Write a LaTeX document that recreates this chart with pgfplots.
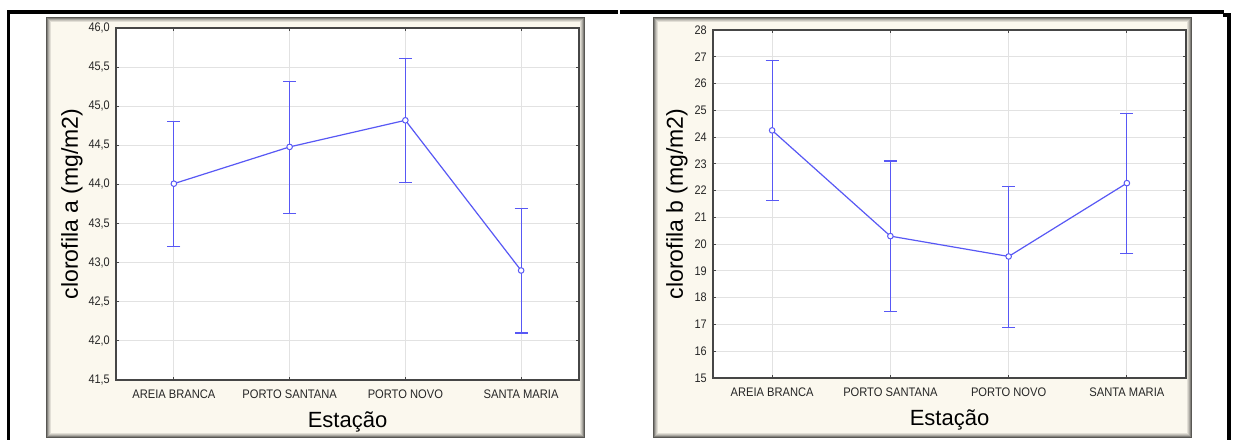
\documentclass[border=0pt]{standalone}
\usepackage{pgfplots}
\pgfplotsset{compat=1.18}
\usepackage{fontspec}
\setmainfont{Liberation Sans}
\usetikzlibrary{calc}
\definecolor{plotblue}{RGB}{88,88,245}
\definecolor{cream}{RGB}{251,248,238}
\definecolor{gridgray}{RGB}{226,226,226}
\definecolor{axisgray}{RGB}{70,70,70}
\newcommand{\panel}[4]{%
  \fill[cream] (#1,#2) rectangle (#3,#4);
  \foreach \k/\c in {0/65,1/48,2/32,3/20,4/10}{%
    \draw[line width=0.5pt, black!\c!cream] ($(#1,#2)+(\k*0.5pt+0.25pt,\k*0.5pt+0.25pt)$) rectangle ($(#3,#4)-(\k*0.5pt+0.25pt,\k*0.5pt+0.25pt)$);
  }}
\pgfplotsset{mystyle/.style={
  scale only axis, anchor=south west,
  xmin=-0.5, xmax=3.5, xtick={0,1,2,3},
  xticklabels={AREIA BRANCA, PORTO SANTANA, PORTO NOVO, SANTA MARIA},
  grid=major, major grid style={gridgray, line width=0.5pt},
  axis line style={axisgray, line width=0.6pt},
  tick style={axisgray, line width=0.5pt}, major tick length=1.5pt,
  tick align=inside, tick pos=both,
  axis background/.style={fill=white},
  ticklabel style={font=\fontsize{6.2}{7}\selectfont, text=black!85},
  xticklabel style={anchor=base, yshift=-9pt, xscale=0.9},
  yticklabel style={/pgf/number format/assume math mode=true, xscale=0.88},
  xlabel={Estação},
  xlabel style={font=\fontsize{11}{13}\selectfont, at={(axis description cs:0.5,0)}, anchor=base, yshift=-23.5pt},
  ylabel style={font=\fontsize{11.5}{13}\selectfont, at={(axis description cs:0,0.5)}, anchor=center},
}}
\pgfplotsset{myplot/.style={draw=plotblue, line width=0.6pt,
     mark=*, mark size=1.4pt, mark options={fill=white, draw=plotblue, solid, line width=0.5pt},
     error bars/y dir=both, error bars/y explicit,
     error bars/error bar style={draw=plotblue, line width=0.6pt},
     error bars/error mark options={rotate=90, mark size=3.2pt, draw=plotblue, line width=0.6pt}}}
\begin{document}
\begin{tikzpicture}
\useasboundingbox (0,0) rectangle (617pt,220pt);
\panel{23pt}{1pt}{292.5pt}{211.5pt}
\panel{326.5pt}{1pt}{596pt}{211.5pt}
\draw[black, line width=1.6pt] (3.5pt,214pt) -- (309pt,214pt);
\draw[black, line width=1.6pt] (310pt,214pt) -- (612pt,214pt);
\draw[black, line width=1.6pt] (4.3pt,214.8pt) -- (4.3pt,0pt);
\draw[black, line width=1.6pt] (611.5pt,212.5pt) -- (615.5pt,212.5pt);
\draw[black, line width=2pt] (614.5pt,213pt) -- (614.5pt,0pt);

\begin{axis}[mystyle, at={(58pt,30pt)}, width=231.5pt, height=176pt,
  ymin=41.5, ymax=46, ytick={41.5,42,...,46},
  yticklabel style={/pgf/number format/.cd, use comma, fixed, fixed zerofill, precision=1},
  ylabel={clorofila a (mg/m2)}, ylabel style={yshift=22pt}]
\addplot[myplot] coordinates {
  (0,44.01) +=(0,0.79) -=(0,0.80)
  (1,44.48) +=(0,0.84) -=(0,0.85)
  (2,44.82) +=(0,0.79) -=(0,0.79)
  (3,42.90) +=(0,0.79) -=(0,0.80)
};
\end{axis}

\begin{axis}[mystyle, at={(356.5pt,31pt)}, width=236.5pt, height=174pt,
  ymin=15, ymax=28, ytick={15,16,...,28},
  ylabel={clorofila b (mg/m2)}, ylabel style={yshift=18pt}]
\addplot[myplot] coordinates {
  (0,24.25) +=(0,2.61) -=(0,2.63)
  (1,20.30) +=(0,2.81) -=(0,2.81)
  (2,19.54) +=(0,2.60) -=(0,2.65)
  (3,22.28) +=(0,2.60) -=(0,2.64)
};
\end{axis}
\end{tikzpicture}
\end{document}
